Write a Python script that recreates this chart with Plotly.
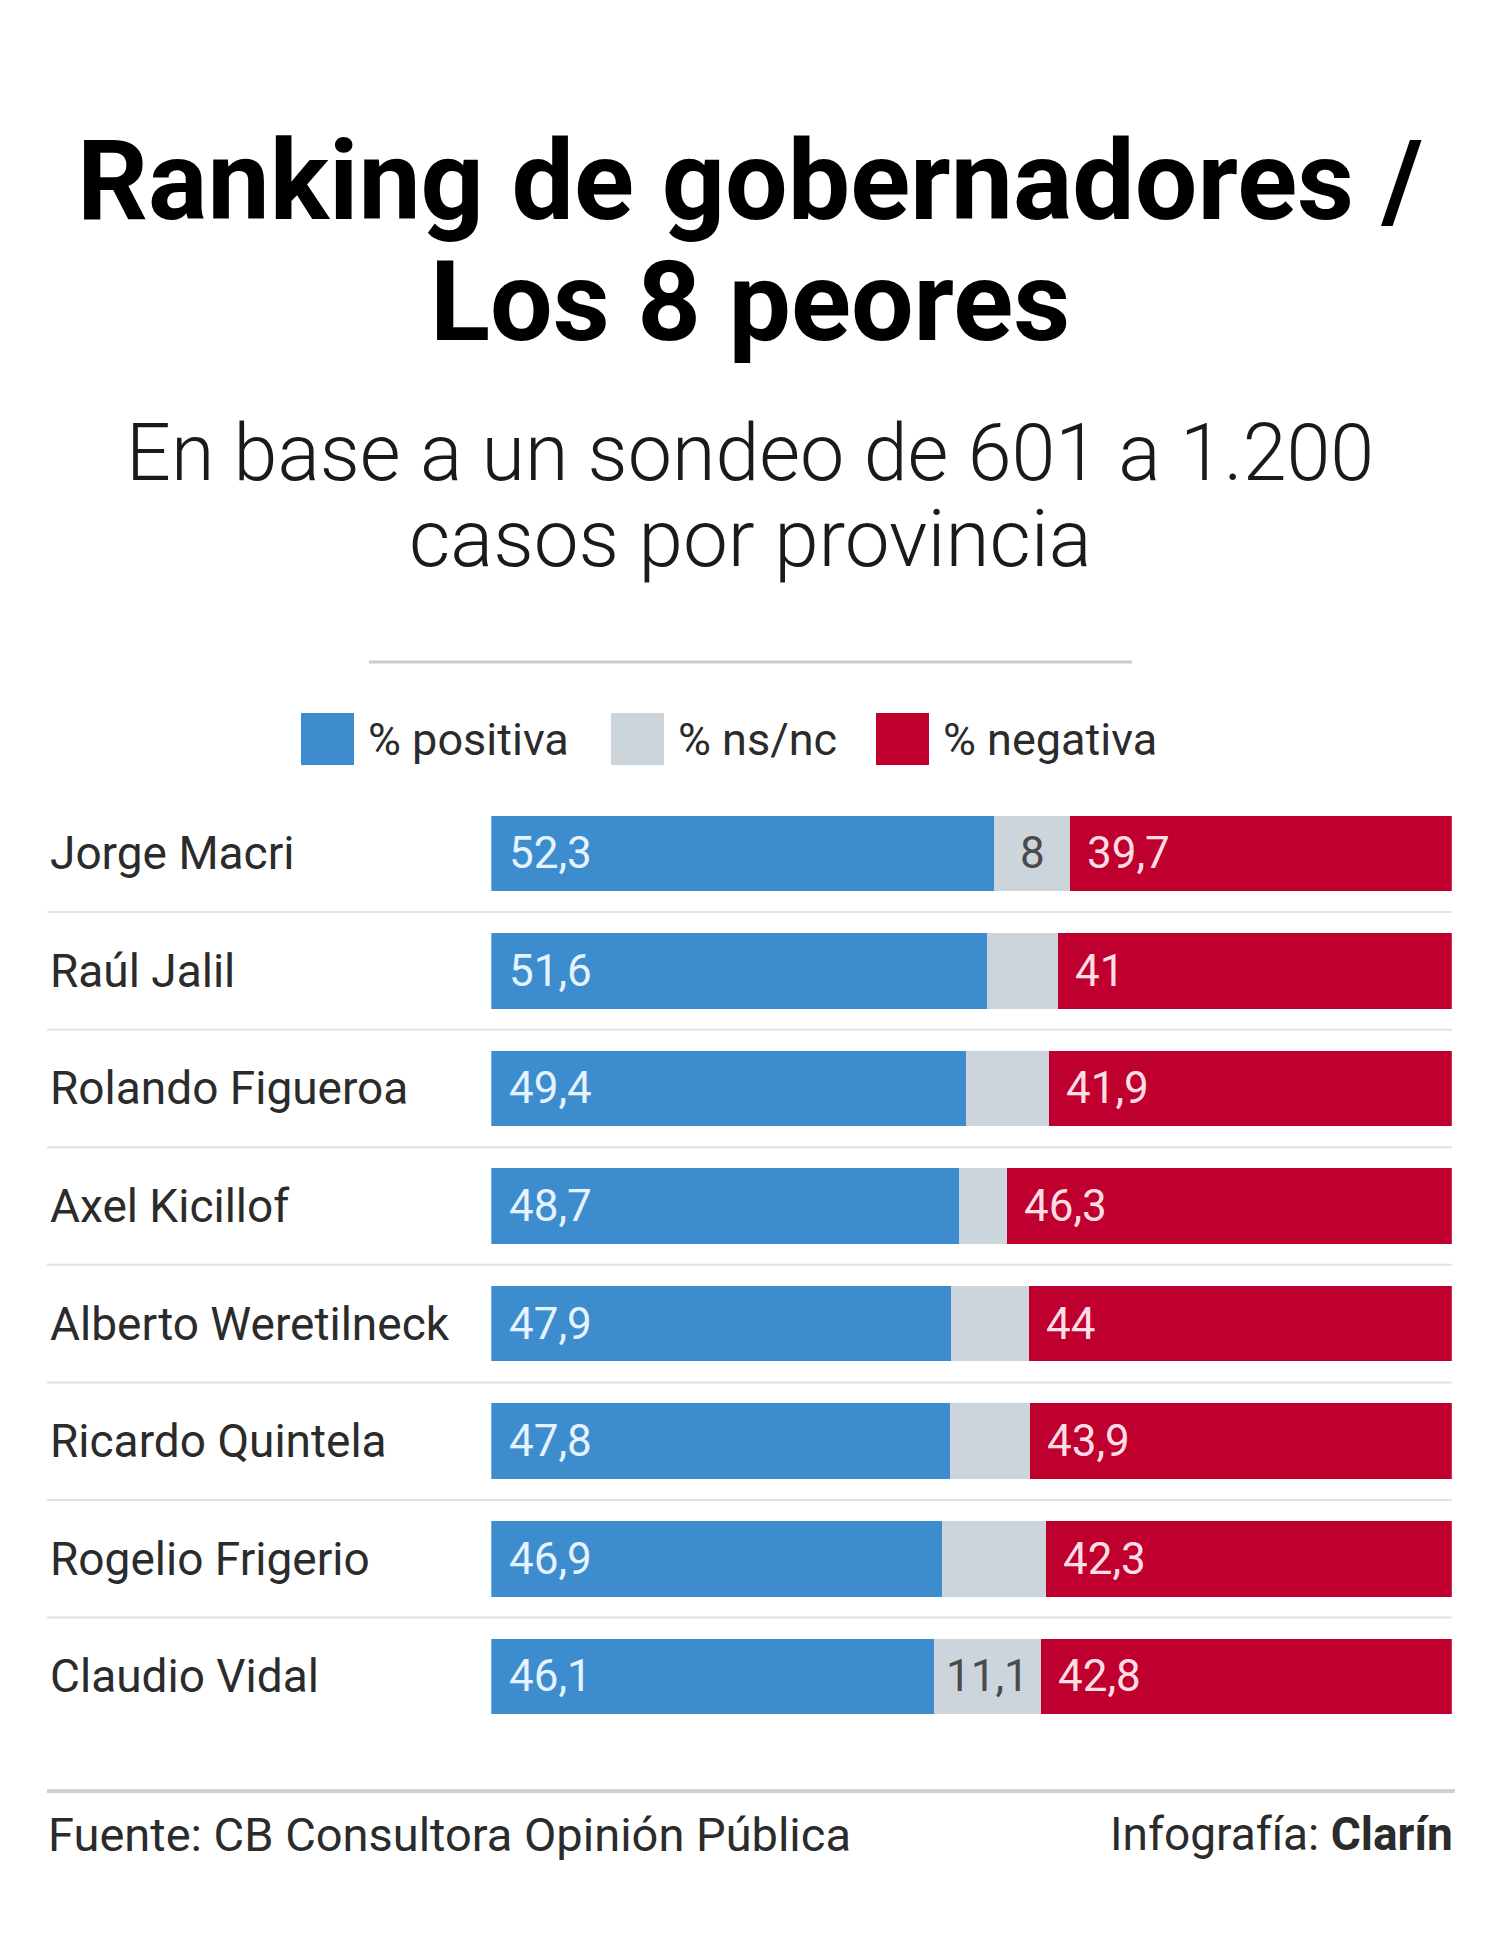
import plotly.graph_objects as go

# ---- data ----
names = ["Jorge Macri", "Raúl Jalil", "Rolando Figueroa", "Axel Kicillof",
         "Alberto Weretilneck", "Ricardo Quintela", "Rogelio Frigerio", "Claudio Vidal"]
positiva = [52.3, 51.6, 49.4, 48.7, 47.9, 47.8, 46.9, 46.1]
nsnc = [8.0, 7.4, 8.7, 5.0, 8.1, 8.3, 10.8, 11.1]
negativa = [39.7, 41.0, 41.9, 46.3, 44.0, 43.9, 42.3, 42.8]
positiva_labels = ["52,3", "51,6", "49,4", "48,7", "47,9", "47,8", "46,9", "46,1"]
nsnc_labels = ["8", "", "", "", "", "", "", "11,1"]
negativa_labels = ["39,7", "41", "41,9", "46,3", "44", "43,9", "42,3", "42,8"]
series_names = ["% positiva", "% ns/nc", "% negativa"]

title_lines = ["Ranking de gobernadores /", "Los 8 peores"]
subtitle_lines = ["En base a un sondeo de 601 a 1.200", "casos por provincia"]
source_text = "Fuente: CB Consultora Opinión Pública"
credit_text = "Infografía: <b>Clarín</b>"

# ---- style ----
W, H = 1500, 1940
BLUE, GRAY, RED = "#3d8cce", "#cdd5dc", "#bf002e"
FONT = "Roboto, 'Open Sans', sans-serif"
TXT = "#2b2b2b"

def px_y(y):
    return 1 - y / H

def px_x(x):
    return x / W

fig = go.Figure()
colors = [BLUE, GRAY, RED]
for vals, nm, col in zip([positiva, nsnc, negativa], series_names, colors):
    fig.add_trace(go.Bar(y=names, x=vals, orientation="h", name=nm,
                         marker=dict(color=col, line=dict(width=0)),
                         showlegend=False, hoverinfo="x+y"))

ann = []
shapes = []

# title & subtitle
ann.append(dict(text="<b>" + title_lines[0] + "</b>", x=0.5, y=px_y(181), xref="paper", yref="paper",
                xanchor="center", yanchor="middle", showarrow=False,
                font=dict(family=FONT, size=111, color="#000")))
ann.append(dict(text="<b>" + title_lines[1] + "</b>", x=0.5, y=px_y(302), xref="paper", yref="paper",
                xanchor="center", yanchor="middle", showarrow=False,
                font=dict(family=FONT, size=111, color="#000")))
ann.append(dict(text=subtitle_lines[0], x=0.5, y=px_y(453), xref="paper", yref="paper",
                xanchor="center", yanchor="middle", showarrow=False,
                font=dict(family=FONT, size=79, color="#1a1a1a", weight=300)))
ann.append(dict(text=subtitle_lines[1], x=0.5, y=px_y(539), xref="paper", yref="paper",
                xanchor="center", yanchor="middle", showarrow=False,
                font=dict(family=FONT, size=80, color="#1a1a1a", weight=300)))

# separator under subtitle
shapes.append(dict(type="line", xref="paper", yref="paper", x0=px_x(369), x1=px_x(1132),
                   y0=px_y(662), y1=px_y(662), line=dict(color="#cccccc", width=3)))

# custom legend
leg_sq = [301, 611, 876]
leg_tx = [366, 676, 941]
for sx, tx, col, nm in zip(leg_sq, leg_tx, colors, series_names):
    shapes.append(dict(type="rect", xref="paper", yref="paper", x0=px_x(sx), x1=px_x(sx + 53),
                       y0=px_y(765), y1=px_y(713), fillcolor=col, line=dict(width=0)))
    ann.append(dict(text=nm, x=px_x(tx), y=px_y(739), xref="paper", yref="paper",
                    xanchor="left", yanchor="middle", showarrow=False,
                    font=dict(family=FONT, size=45, color=TXT)))

# row labels, value labels, separators
for i, nm in enumerate(names):
    ann.append(dict(text=nm, x=px_x(48), y=nm, xref="paper", yref="y",
                    xanchor="left", yanchor="middle", showarrow=False,
                    font=dict(family=FONT, size=46, color=TXT)))
    ann.append(dict(text=positiva_labels[i], x=0, y=nm, xref="x", yref="y",
                    xanchor="left", yanchor="middle", xshift=16, showarrow=False,
                    font=dict(family=FONT, size=44, color="#e4f3ff")))
    ann.append(dict(text=negativa_labels[i], x=positiva[i] + nsnc[i], y=nm, xref="x", yref="y",
                    xanchor="left", yanchor="middle", xshift=15, showarrow=False,
                    font=dict(family=FONT, size=44, color="#ffdde5")))
    if nsnc_labels[i]:
        ann.append(dict(text=nsnc_labels[i], x=positiva[i] + nsnc[i] / 2, y=nm, xref="x", yref="y",
                        xanchor="center", yanchor="middle", showarrow=False,
                        font=dict(family=FONT, size=44, color="#4a4a4a")))
    if i < len(names) - 1:
        shapes.append(dict(type="line", xref="paper", yref="y", x0=px_x(47), x1=px_x(1452),
                           y0=i + 0.5, y1=i + 0.5, line=dict(color="#e3e3e3", width=2)))

# footer
shapes.append(dict(type="line", xref="paper", yref="paper", x0=px_x(47), x1=px_x(1455),
                   y0=px_y(1791), y1=px_y(1791), line=dict(color="#cfcfcf", width=4)))
ann.append(dict(text=source_text, x=px_x(46), y=px_y(1834), xref="paper", yref="paper",
                xanchor="left", yanchor="middle", showarrow=False,
                font=dict(family=FONT, size=47, color=TXT)))
ann.append(dict(text=credit_text, x=px_x(1455), y=px_y(1834), xref="paper", yref="paper",
                xanchor="right", yanchor="middle", showarrow=False,
                font=dict(family=FONT, size=46, color=TXT)))

fig.update_layout(
    width=W, height=H, autosize=False,
    margin=dict(l=0, r=0, t=0, b=0, pad=0),
    paper_bgcolor="white", plot_bgcolor="white",
    barmode="stack", bargap=0.358,
    showlegend=False,
    xaxis=dict(domain=[px_x(491.3), px_x(1451.8)], range=[0, 100], visible=False, fixedrange=True),
    yaxis=dict(domain=[px_y(1735.2), px_y(794.5)], categoryorder="array", categoryarray=names,
               range=[len(names) - 0.5, -0.5], visible=False, fixedrange=True),
    annotations=ann, shapes=shapes,
)

fig.write_html("out.html", config={"displayModeBar": False},
               post_script="document.body.style.margin='0';document.body.style.overflow='hidden';")
